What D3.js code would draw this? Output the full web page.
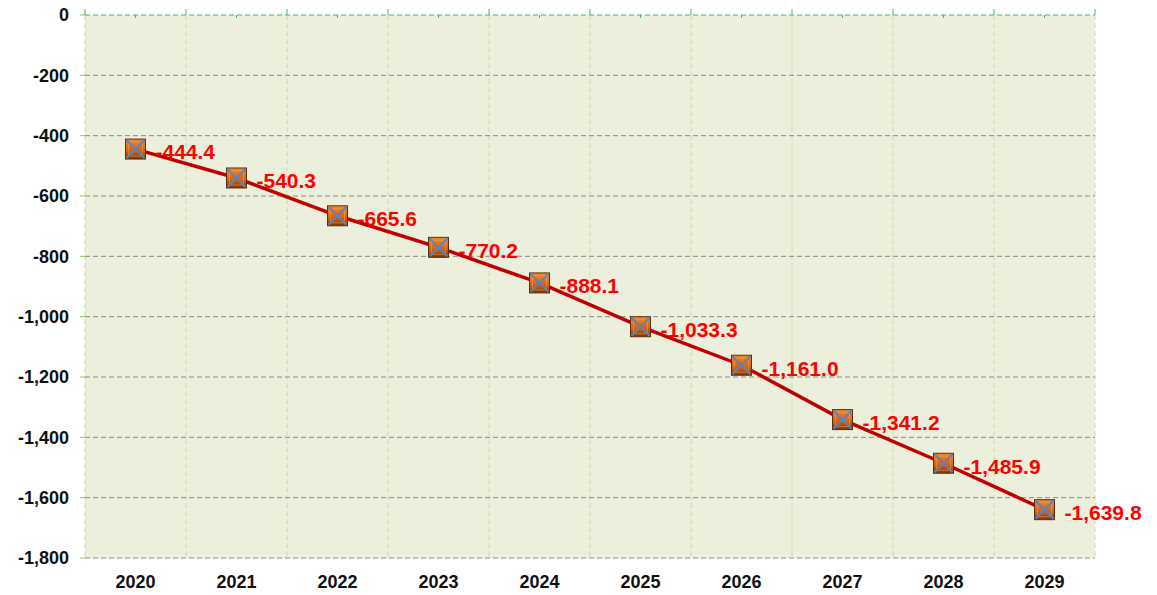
<!DOCTYPE html>
<html>
<head>
<meta charset="utf-8">
<script src="https://cdn.jsdelivr.net/npm/d3@7"></script>
<style>
  body { margin: 0; background: #fff; }
  svg { display: block; font-family: "Liberation Sans", Arial, sans-serif; }
</style>
</head>
<body>
<svg width="1157" height="595"></svg>
<script>
// chart data
const years = ["2020", "2021", "2022", "2023", "2024", "2025", "2026", "2027", "2028", "2029"];
const values = [-444.4, -540.3, -665.6, -770.2, -888.1, -1033.3, -1161.0, -1341.2, -1485.9, -1639.8];
const yTicks = [0, -200, -400, -600, -800, -1000, -1200, -1400, -1600, -1800];

const svg = d3.select("svg");
const pLeft = 85, pRight = 1095, pTop = 15, pBottom = 558;

const x = d3.scaleBand().domain(years).range([pLeft, pRight]).padding(0);
const y = d3.scaleLinear().domain([-1800, 0]).range([pBottom, pTop]);
// plain hyphen instead of unicode minus
const fmt = (v) => d3.format(",.1f")(v).replace("\u2212", "-");
const fmtTick = (v) => d3.format(",")(v).replace("\u2212", "-");

// gradient for markers
const defs = svg.append("defs");
const grad = defs.append("linearGradient").attr("id", "mk").attr("x1", 0).attr("y1", 0).attr("x2", 0).attr("y2", 1);
grad.append("stop").attr("offset", "0%").attr("stop-color", "#f08a2a");
grad.append("stop").attr("offset", "60%").attr("stop-color", "#d8600c");
grad.append("stop").attr("offset", "100%").attr("stop-color", "#7a3806");

// plot background
svg.append("rect")
  .attr("x", pLeft).attr("y", pTop)
  .attr("width", pRight - pLeft).attr("height", pBottom - pTop)
  .attr("fill", "#ebefdc");

// vertical grid at band edges
const edges = years.map((d) => x(d)).concat([pRight]);
svg.append("g").selectAll("line").data(edges).enter().append("line")
  .attr("x1", (d) => d).attr("x2", (d) => d)
  .attr("y1", pTop).attr("y2", pBottom)
  .attr("stroke", "#cadf9c").attr("stroke-dasharray", "5,3");

// horizontal grid
svg.append("g").selectAll("line").data(yTicks).enter().append("line")
  .attr("x1", pLeft).attr("x2", pRight)
  .attr("y1", (d) => y(d)).attr("y2", (d) => y(d))
  .attr("stroke", (d) => (d === 0 ? "#3cbb6c" : "#8c8c8c"))
  .attr("stroke-dasharray", "5,3");

// top ticks (green)
svg.append("g").selectAll("line").data(edges).enter().append("line")
  .attr("x1", (d) => d).attr("x2", (d) => d)
  .attr("y1", pTop - 6).attr("y2", pTop)
  .attr("stroke", "#3cbb6c");
svg.append("g").selectAll("line").data(years).enter().append("line")
  .attr("x1", (d) => x(d) + x.bandwidth() / 2).attr("x2", (d) => x(d) + x.bandwidth() / 2)
  .attr("y1", pTop).attr("y2", pTop + 3)
  .attr("stroke", "#3cbb6c");

// y tick marks and labels
svg.append("g").selectAll("line").data(yTicks).enter().append("line")
  .attr("x1", pLeft - 5).attr("x2", pLeft)
  .attr("y1", (d) => y(d)).attr("y2", (d) => y(d))
  .attr("stroke", "#8cd050");
svg.append("g").selectAll("text").data(yTicks).enter().append("text")
  .attr("x", 69).attr("y", (d) => y(d))
  .attr("dy", "0.35em")
  .attr("text-anchor", "end")
  .style("font-size", "18px").style("font-weight", "bold")
  .attr("fill", "#111")
  .text(fmtTick);

// x labels
svg.append("g").selectAll("text").data(years).enter().append("text")
  .attr("x", (d) => x(d) + x.bandwidth() / 2).attr("y", 588)
  .attr("text-anchor", "middle")
  .style("font-size", "18px").style("font-weight", "bold")
  .attr("fill", "#111")
  .text((d) => d);

// line
const pts = years.map((d, i) => ({ year: d, v: values[i] }));
const line = d3.line().x((d) => x(d.year) + x.bandwidth() / 2).y((d) => y(d.v));
svg.append("path").datum(pts)
  .attr("d", line)
  .attr("fill", "none")
  .attr("stroke", "#c00000")
  .attr("stroke-width", 3.5);

// markers
const mk = svg.append("g").selectAll("g").data(pts).enter().append("g")
  .attr("transform", (d) => `translate(${x(d.year) + x.bandwidth() / 2},${y(d.v)})`);
mk.append("rect")
  .attr("x", -10).attr("y", -10).attr("width", 20).attr("height", 20)
  .attr("fill", "url(#mk)")
  .attr("stroke", "#5a3010").attr("stroke-width", 1);
mk.append("rect")
  .attr("x", -7).attr("y", -7).attr("width", 14).attr("height", 14)
  .attr("fill", "none")
  .attr("stroke", "#f7a850").attr("stroke-opacity", 0.5).attr("stroke-width", 1);
mk.append("path")
  .attr("d", "M-9,-9L9,9M9,-9L-9,9")
  .attr("stroke", "#5b82c4").attr("stroke-width", 2);

// value labels
svg.append("g").selectAll("text").data(pts).enter().append("text")
  .attr("x", (d) => x(d.year) + x.bandwidth() / 2 + 20)
  .attr("y", (d) => y(d.v) + 3)
  .attr("dy", "0.35em")
  .style("font-size", "21px").style("font-weight", "bold")
  .attr("fill", "#ff0000")
  .text((d) => fmt(d.v));
</script>
</body>
</html>
